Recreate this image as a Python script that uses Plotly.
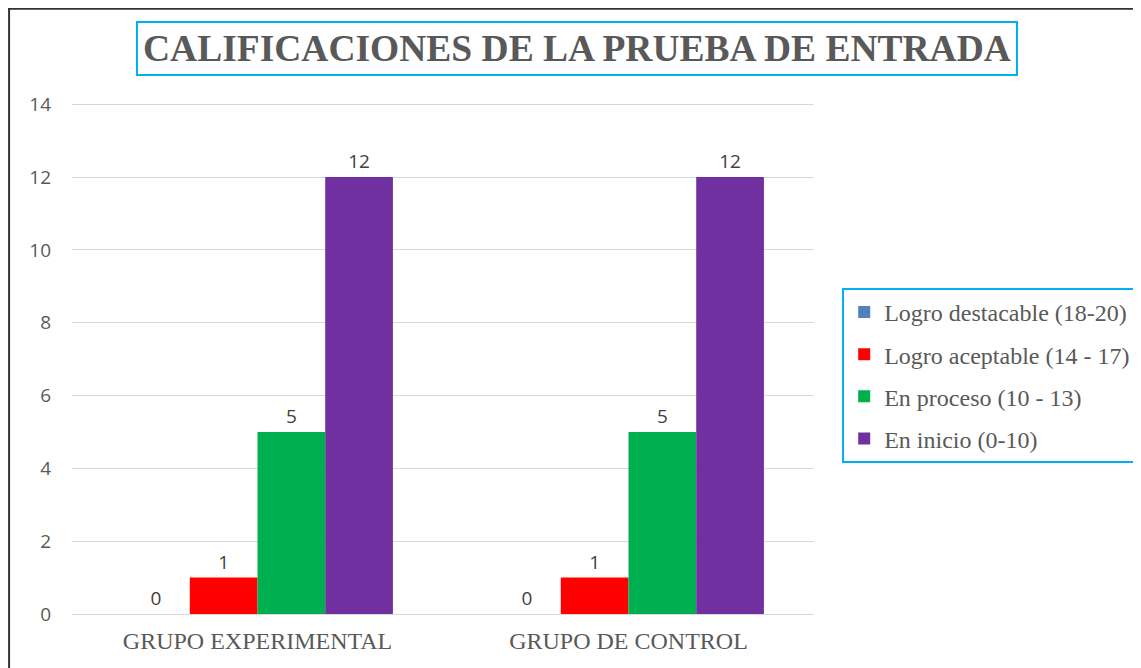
import plotly.graph_objects as go

grupos = ['GRUPO EXPERIMENTAL', 'GRUPO DE CONTROL']
niveles = ['Logro destacable (18-20)', 'Logro aceptable (14 - 17)', 'En proceso (10 - 13)', 'En inicio (0-10)']
destacable = [0, 0]
aceptable = [1, 1]
proceso = [5, 5]
inicio = [12, 12]
colores = ['#4F81BD', '#FF0000', '#00B050', '#7030A0']

fig = go.Figure()

for i, (nombre, valores) in enumerate(zip(niveles, [destacable, aceptable, proceso, inicio])):
    fig.add_trace(go.Bar(
        x=grupos, y=valores, name=nombre,
        marker=dict(color=colores[i], line=dict(width=0)),
        text=valores, textposition='outside', cliponaxis=False,
        textfont=dict(family='Open Sans', size=19, color='#404040'),
        legendgroup=str(i),
    ))

# la página añade 8px de margen, así que el borde del lienzo hace de marco
fig.update_layout(
    width=1141, height=668,
    margin=dict(l=64, r=331, t=94, b=62),
    paper_bgcolor='white', plot_bgcolor='white',
    barmode='group', bargap=0.27, bargroupgap=0,
    showlegend=True,
    legend=dict(
        x=1.038, y=0.637, xanchor='left', yanchor='top',
        font=dict(family='Liberation Serif', size=24, color='#595959'),
        bordercolor='#00B0F0', borderwidth=2,
        tracegroupgap=8, itemwidth=30,
    ),
    xaxis=dict(
        tickfont=dict(family='Liberation Serif', size=24, color='#595959'),
        showline=False, ticks='', showgrid=False, ticklabelstandoff=10,
    ),
    yaxis=dict(
        range=[0, 14.06], tickvals=[0, 2, 4, 6, 8, 10, 12, 14],
        showgrid=True, gridcolor='#D9D9D9', gridwidth=1,
        zeroline=True, zerolinecolor='#D9D9D9', zerolinewidth=1,
        tickfont=dict(family='Open Sans', size=19, color='#595959'),
        ticks='', ticklabelstandoff=20,
    ),
    annotations=[dict(
        text='<b>CALIFICACIONES DE LA PRUEBA DE ENTRADA</b>',
        xref='paper', yref='paper', x=0.68, y=1.105,
        xanchor='center', yanchor='middle', showarrow=False,
        font=dict(family='Liberation Serif', size=37.5, color='#595959'),
        bordercolor='#00B0F0', borderwidth=2, borderpad=5,
    )],
    shapes=[
        dict(type='line', xref='paper', yref='paper', x0=-0.0848, x1=-0.0848, y0=-0.2, y1=1.2,
             line=dict(color='#333333', width=2)),
        dict(type='line', xref='paper', yref='paper', x0=-0.0861, x1=1.45, y0=1.182, y1=1.182,
             line=dict(color='#333333', width=2)),
    ],
)

fig.write_html('out.html')
